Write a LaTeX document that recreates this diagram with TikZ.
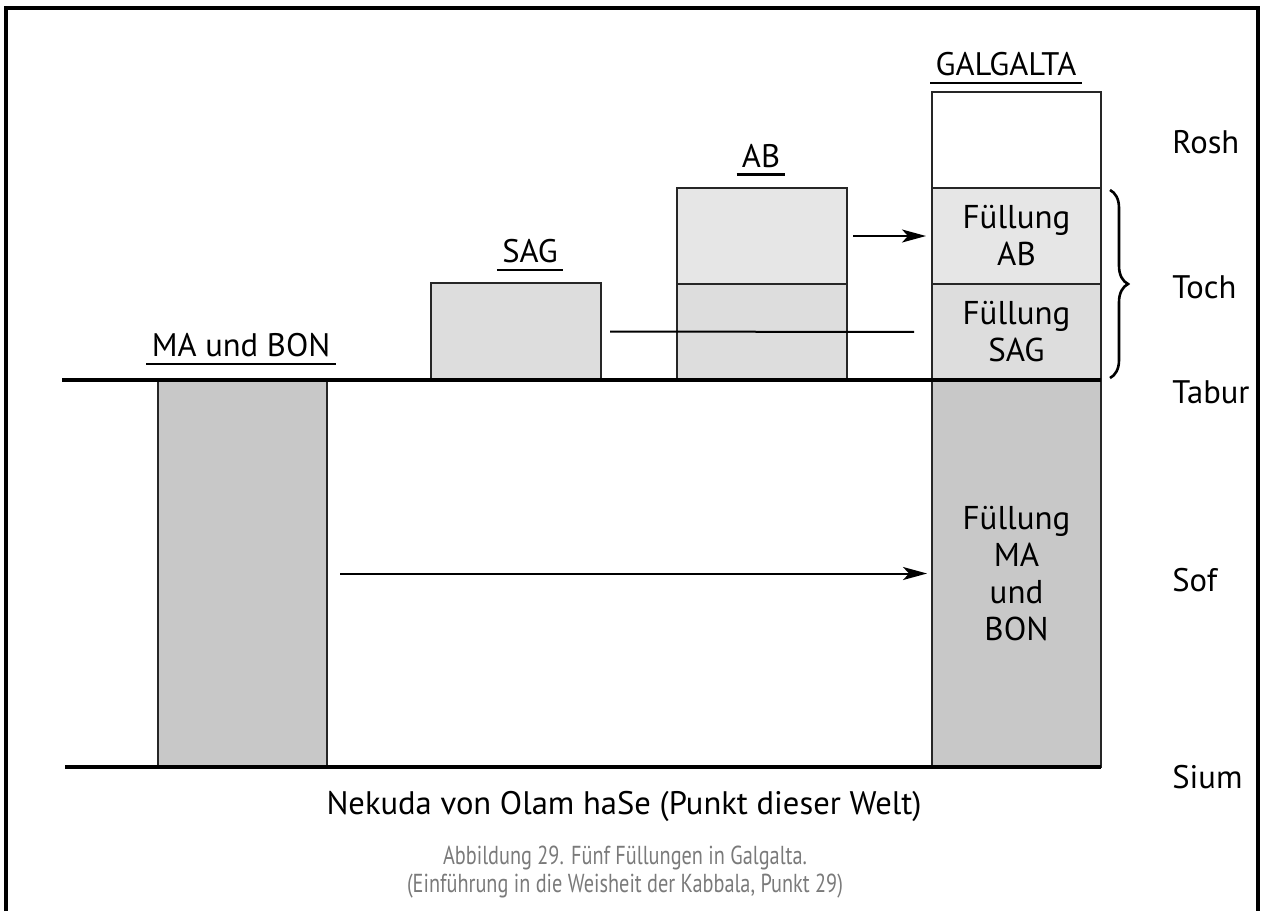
\documentclass[tikz,border=0pt]{standalone}
\usepackage{fontspec}
\setmainfont{PT Sans}
\newfontfamily\capfont[FakeStretch=0.78]{PT Sans}
\usetikzlibrary{arrows.meta,decorations.pathreplacing}

\definecolor{fillpale}{HTML}{E6E6E6}
\definecolor{fillmid}{HTML}{DDDDDD}
\definecolor{filldark}{HTML}{C8C8C8}
\definecolor{capgray}{HTML}{7A7A7A}

\begin{document}
\begin{tikzpicture}[
  x=0.5pt,y=-0.5pt,
  box/.style={draw=black!85,line width=1pt,inner sep=0pt,outer sep=0pt,anchor=north west,
    minimum width=85pt,align=center,font=\fontsize{16.5}{18.5}\selectfont},
  heading/.style={font=\fontsize{16.3}{18}\selectfont,anchor=base,inner xsep=2.5pt,inner ysep=3.5pt,
    append after command={(\tikzlastnode.south west) edge[draw,line width=1.2pt] (\tikzlastnode.south east)}},
  side/.style={font=\fontsize{16.3}{18}\selectfont,anchor=west,inner xsep=0pt},
  level/.style={line width=2pt},
  flow/.style={-{Stealth[length=12pt,width=6.5pt,inset=3pt]},line width=1pt}
]
  \useasboundingbox (0,0) rectangle (1261,911);
  \draw[line width=1.8pt] (6,911) |- (1258,8) -- (1258,911);

  % the four partzufim
  \node[box,fill=filldark,minimum width=84.5pt,minimum height=193.5pt] (mabon) at (158,380) {};
  \node[box,fill=fillmid,minimum height=48.5pt] (sag) at (431,283) {};
  \node[box,fill=fillpale,minimum height=48pt] (abtop) at (677,188) {};
  \node[box,fill=fillmid,minimum height=48pt] (abbot) at (677,284) {};
  \node[box,fill=white,minimum width=84.5pt,minimum height=48pt] (rosh) at (932,92) {};
  \node[box,fill=fillpale,minimum width=84.5pt,minimum height=48pt] (galab) at (932,188) {Füllung\\AB};
  \node[box,fill=fillmid,minimum width=84.5pt,minimum height=48pt] (galsag) at (932,284) {Füllung\\SAG};
  \node[box,fill=filldark,minimum width=84.5pt,minimum height=193.5pt] (galmabon) at (932,380) {Füllung\\MA\\und\\BON};

  \node[heading] (hmabon) at (241,356) {MA und BON};
  \node[heading] (hsag) at (530,262) {SAG};
  \node[heading] (hab) at (761,167) {AB};
  \node[heading] (hgal) at (1006,75) {GALGALTA};

  % Tabur and Sium
  \coordinate (taburstart) at (62,380);
  \coordinate (siumstart) at (65,767);
  \draw[level] (taburstart) -- (galmabon.north east);
  \draw[level] (siumstart) -- (galmabon.south east);

  \draw[flow,shorten <=3pt,shorten >=3pt] (abtop) -- (galab);
  \draw[line width=1pt,shorten <=4.5pt,shorten >=9pt] (sag) -- (galsag);
  \draw[flow,shorten <=6.5pt,shorten >=2.5pt] (mabon) -- (galmabon);

  \draw[decorate,decoration={brace,amplitude=9pt},line width=1.3pt]
    ([xshift=4.5pt,yshift=-1pt]galab.north east) -- ([xshift=4.5pt,yshift=1pt]galsag.south east);

  \node[side] (lrosh) at (1172,142) {Rosh};
  \node[side] (ltoch) at (1172,287) {Toch};
  \node[side] (ltabur) at (1172,392) {Tabur};
  \node[side] (lsof) at (1172,580) {Sof};
  \node[side] (lsium) at (1172,777) {Sium};

  \node[font=\fontsize{16.3}{18}\selectfont] (nekuda) at (624,806) {Nekuda von Olam haSe (Punkt dieser Welt)};
  \node[font=\capfont\fontsize{13}{14}\selectfont,text=capgray,align=center] (caption) at (625,872)
    {Abbildung 29. Fünf Füllungen in Galgalta.\\(Einführung in die Weisheit der Kabbala, Punkt 29)};
\end{tikzpicture}
\end{document}
